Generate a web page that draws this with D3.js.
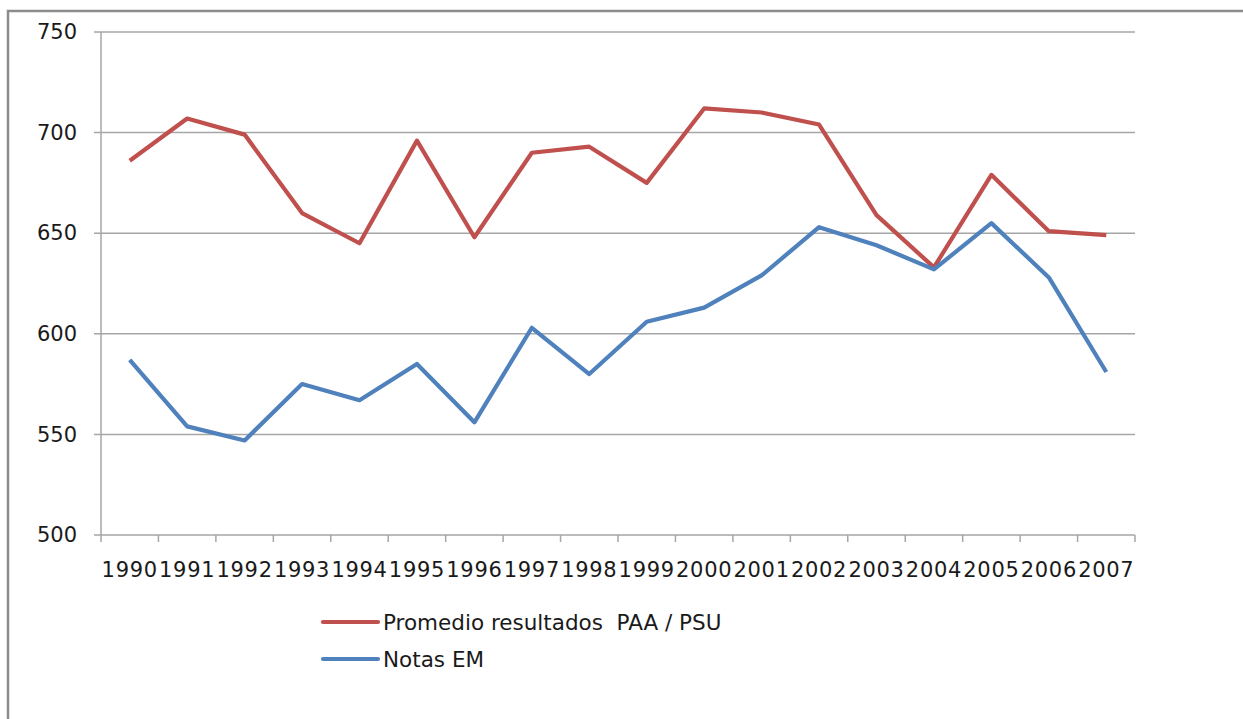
<!DOCTYPE html>
<html>
<head>
<meta charset="utf-8">
<script src="https://cdn.jsdelivr.net/npm/d3@7"></script>
<style>
  body { margin: 0; background: #fff; }
  svg { display: block; font-family: "DejaVu Sans", Verdana, sans-serif; }
</style>
</head>
<body>
<svg></svg>
<script>
// Promedio PAA/PSU vs Notas EM, 1990-2007

const width = 1243;
const height = 719;

const years = ["1990","1991","1992","1993","1994","1995","1996","1997","1998",
  "1999","2000","2001","2002","2003","2004","2005","2006","2007"];
const paaPsu = [686, 707, 699, 660, 645, 696, 648, 690, 693, 675, 712, 710, 704, 659, 633, 679, 651, 649];
const notasEM = [587, 554, 547, 575, 567, 585, 556, 603, 580, 606, 613, 629, 653, 644, 632, 655, 628, 581];
const yTicks = [500, 550, 600, 650, 700, 750];

const seriesNames = ["Promedio resultados  PAA / PSU", "Notas EM"];
const seriesColors = ["#c0504d", "#4f81bd"];
const series = [paaPsu, notasEM];

const plot = { left: 101, right: 1135, top: 32, bottom: 535 };

const svg = d3.select("svg")
  .attr("width", width)
  .attr("height", height);

// outer frame (only left and top edges are visible in the crop)
svg.append("path")
  .attr("d", `M8,${height}V11H${width}`)
  .attr("fill", "none")
  .attr("stroke", "#8c8c8c")
  .attr("stroke-width", 2.5);

const x = d3.scaleBand()
  .domain(years)
  .range([plot.left, plot.right]);

const y = d3.scaleLinear()
  .domain([500, 750])
  .range([plot.bottom, plot.top]);

// gridlines + y axis
const yAxis = svg.append("g")
  .attr("transform", `translate(${plot.left},0)`)
  .call(d3.axisLeft(y).tickValues(yTicks).tickSize(0).tickPadding(24));
yAxis.select(".domain").remove();
yAxis.selectAll("text")
  .attr("font-size", 21)
  .attr("font-family", "DejaVu Sans")
  .attr("fill", "#1a1a1a");

svg.append("g")
  .selectAll("line")
  .data(yTicks)
  .join("line")
  .attr("x1", plot.left - 7)
  .attr("x2", plot.right)
  .attr("y1", d => y(d))
  .attr("y2", d => y(d))
  .attr("stroke", "#a6a6a6")
  .attr("stroke-width", 1.5);

svg.append("line")
  .attr("x1", plot.left).attr("x2", plot.left)
  .attr("y1", plot.top).attr("y2", plot.bottom)
  .attr("stroke", "#a6a6a6")
  .attr("stroke-width", 1.5);

// x axis
const xAxis = svg.append("g")
  .attr("transform", `translate(0,${plot.bottom})`)
  .call(d3.axisBottom(x).tickSize(0).tickPadding(27));
xAxis.select(".domain").remove();
xAxis.selectAll("text")
  .attr("font-size", 21)
  .attr("font-family", "DejaVu Sans")
  .attr("fill", "#1a1a1a")
  .attr("letter-spacing", 0.7);

const boundaries = years.map(d => x(d)).concat([plot.right]);
svg.append("g")
  .selectAll("line")
  .data(boundaries)
  .join("line")
  .attr("x1", d => d).attr("x2", d => d)
  .attr("y1", plot.bottom).attr("y2", plot.bottom + 7)
  .attr("stroke", "#a6a6a6")
  .attr("stroke-width", 1.5);

// lines
const line = d3.line()
  .x((d, i) => x(years[i]) + x.bandwidth() / 2)
  .y(d => y(d));

svg.append("g")
  .selectAll("path")
  .data(series)
  .join("path")
  .attr("fill", "none")
  .attr("stroke", (d, i) => seriesColors[i])
  .attr("stroke-width", 4.2)
  .attr("stroke-linejoin", "round")
  .attr("d", line);

// legend
const legend = svg.append("g")
  .attr("transform", "translate(323,622)");

seriesNames.forEach((name, i) => {
  const g = legend.append("g").attr("transform", `translate(0,${i * 37})`);
  g.append("line")
    .attr("x1", 0).attr("x2", 55)
    .attr("stroke", seriesColors[i])
    .attr("stroke-width", 4.2)
    .attr("stroke-linecap", "round");
  g.append("text")
    .attr("x", 60)
    .attr("dy", "0.35em")
    .attr("font-size", 21.5)
    .attr("fill", "#1a1a1a")
    .attr("xml:space", "preserve")
    .style("white-space", "pre")
    .text(name);
});
</script>
</body>
</html>
